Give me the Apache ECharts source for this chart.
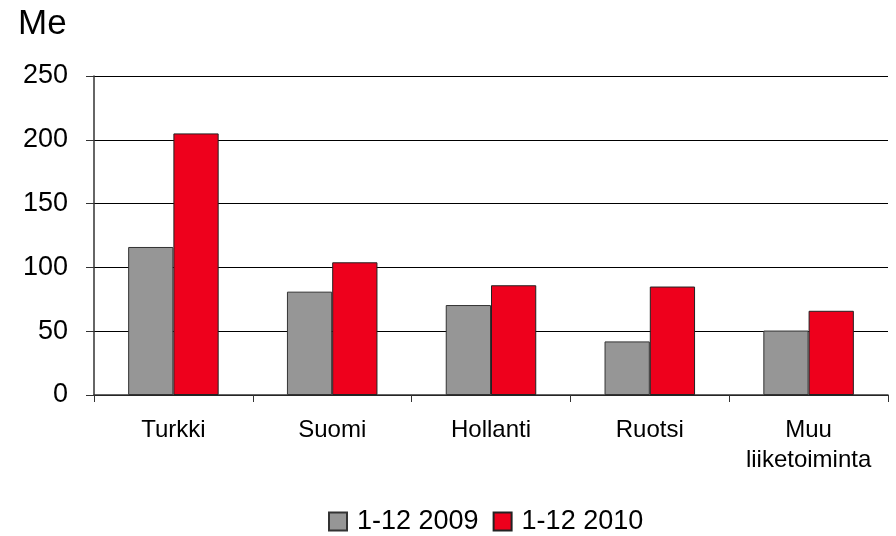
<!DOCTYPE html>
<html>
<head>
<meta charset="utf-8">
<script src="https://cdn.jsdelivr.net/npm/echarts@6/dist/echarts.min.js"></script>
<style>
  html, body { margin: 0; padding: 0; background: #fff; }
  #chart { width: 896px; height: 536px; }
</style>
</head>
<body>
<div id="chart"></div>
<script>
// data
var categories = ['Turkki', 'Suomi', 'Hollanti', 'Ruotsi', 'Muu\nliiketoiminta'];
var seriesNames = ['1-12 2009', '1-12 2010'];
var values2009 = [116, 81, 70.5, 42, 50.5];
var values2010 = [205, 104, 86, 85, 66];
var yTicks = { min: 0, max: 250, interval: 50 };

var myChart = echarts.init(document.getElementById('chart'));

var font = 'Liberation Sans, Arial, sans-serif';

var option = {
    animation: false,
    textStyle: { fontFamily: font },
    title: {
        text: 'Me',
        left: 18,
        top: 7,
        padding: 0,
        textStyle: { fontSize: 35, fontWeight: 'normal', color: '#000', fontFamily: font }
    },
    legend: {
        data: seriesNames,
        top: 508,
        left: 328,
        padding: 0,
        icon: 'rect',
        itemWidth: 18,
        itemHeight: 18,
        itemGap: 14,
        textStyle: { fontSize: 27, color: '#000', fontFamily: font, padding: [0, 0, 0, 5] }
    },
    grid: { left: 94, right: 8, top: 76, bottom: 141, containLabel: false },
    xAxis: {
        type: 'category',
        data: categories,
        axisLine: { lineStyle: { color: '#333', width: 1.5 } },
        axisTick: { show: true, interval: 0, length: 7, lineStyle: { color: '#333' } },
        axisLabel: { interval: 0, fontSize: 24, color: '#000', margin: 20, lineHeight: 30, fontFamily: font }
    },
    yAxis: {
        type: 'value',
        min: yTicks.min,
        max: yTicks.max,
        interval: yTicks.interval,
        axisLine: { show: true, lineStyle: { color: '#333', width: 1.5 } },
        axisTick: { show: true, length: 8, lineStyle: { color: '#333' } },
        axisLabel: { fontSize: 27, color: '#000', margin: 26, fontFamily: font },
        splitLine: { lineStyle: { color: '#000', width: 1 } }
    },
    series: [
        {
            name: seriesNames[0],
            type: 'bar',
            data: values2009,
            barGap: '0%',
            barCategoryGap: '43%',
            itemStyle: { color: '#969696', borderColor: '#333', borderWidth: 1 }
        },
        {
            name: seriesNames[1],
            type: 'bar',
            data: values2010,
            itemStyle: { color: '#EE001C', borderColor: '#222', borderWidth: 1 }
        }
    ]
};

myChart.setOption(option);
</script>
</body>
</html>
